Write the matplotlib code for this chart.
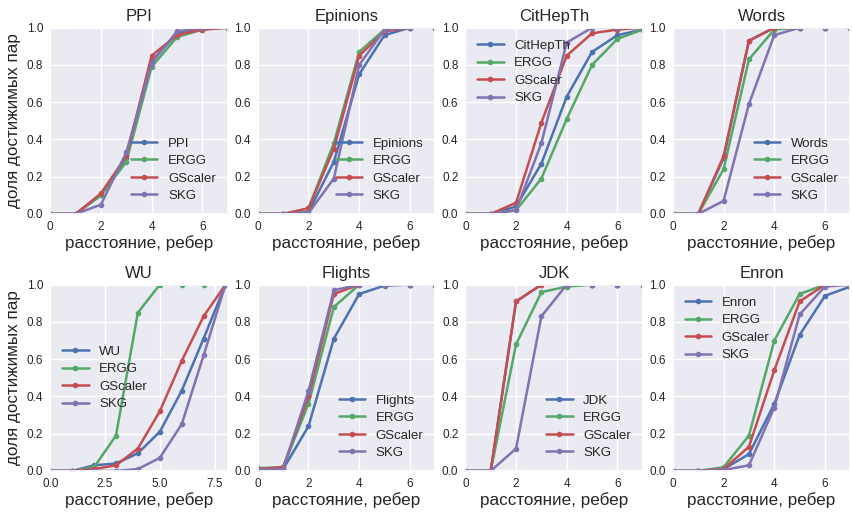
import matplotlib
matplotlib.use("Agg")
import matplotlib.pyplot as plt
import seaborn as sns

sns.set_theme(style="darkgrid")
plt.rcParams['font.family'] = ['Liberation Sans', 'DejaVu Sans']

colors = ["#4C72B0", "#55A868", "#C44E52", "#8172B2"]

titles = ["PPI", "Epinions", "CitHepTh", "Words", "WU", "Flights", "JDK", "Enron"]

ppi = {
    "PPI": [0, 0, 0.10, 0.30, 0.82, 0.97, 1.0, 1.0],
    "ERGG": [0, 0, 0.10, 0.28, 0.79, 0.95, 0.99, 1.0],
    "GScaler": [0, 0, 0.11, 0.31, 0.85, 0.96, 0.99, 1.0],
    "SKG": [0, 0, 0.05, 0.33, 0.81, 0.98, 1.0, 1.0],
}
epinions = {
    "Epinions": [0, 0, 0.01, 0.28, 0.75, 0.96, 1.0, 1.0],
    "ERGG": [0, 0, 0.03, 0.38, 0.87, 0.99, 1.0, 1.0],
    "GScaler": [0, 0, 0.03, 0.35, 0.85, 0.98, 1.0, 1.0],
    "SKG": [0, 0, 0.005, 0.19, 0.80, 0.99, 1.0, 1.0],
}
cithepth = {
    "CitHepTh": [0, 0, 0.04, 0.27, 0.63, 0.87, 0.96, 0.99],
    "ERGG": [0, 0, 0.02, 0.19, 0.51, 0.80, 0.94, 0.99],
    "GScaler": [0, 0, 0.06, 0.49, 0.85, 0.97, 0.99, 1.0],
    "SKG": [0, 0, 0.02, 0.38, 0.92, 1.0, 1.0, 1.0],
}
words = {
    "Words": [0, 0, 0.30, 0.93, 1.0, 1.0, 1.0, 1.0],
    "ERGG": [0, 0, 0.24, 0.83, 0.99, 1.0, 1.0, 1.0],
    "GScaler": [0, 0, 0.31, 0.93, 1.0, 1.0, 1.0, 1.0],
    "SKG": [0, 0, 0.07, 0.59, 0.96, 1.0, 1.0, 1.0],
}
wu = {
    "WU": [0, 0, 0.03, 0.04, 0.095, 0.21, 0.43, 0.71, 1.0],
    "ERGG": [0, 0, 0.02, 0.19, 0.85, 1.0, 1.0, 1.0],
    "GScaler": [0, 0, 0.01, 0.03, 0.12, 0.32, 0.59, 0.83, 1.0],
    "SKG": [0, 0, 0.0, 0.0, 0.01, 0.07, 0.25, 0.62, 1.0],
}
flights = {
    "Flights": [0.01, 0.01, 0.24, 0.71, 0.95, 0.995, 1.0, 1.0],
    "ERGG": [0.015, 0.02, 0.36, 0.88, 1.0, 1.0, 1.0, 1.0],
    "GScaler": [0.01, 0.02, 0.40, 0.95, 1.0, 1.0, 1.0, 1.0],
    "SKG": [0.005, 0.01, 0.43, 0.97, 1.0, 1.0, 1.0, 1.0],
}
jdk = {
    "JDK": [0, 0, 0.91, 1.0, 1.0, 1.0, 1.0, 1.0],
    "ERGG": [0, 0, 0.68, 0.96, 0.99, 1.0, 1.0, 1.0],
    "GScaler": [0, 0, 0.91, 1.0, 1.0, 1.0, 1.0, 1.0],
    "SKG": [0, 0, 0.12, 0.83, 1.0, 1.0, 1.0, 1.0],
}
enron = {
    "Enron": [0, 0, 0.01, 0.09, 0.36, 0.73, 0.94, 0.99],
    "ERGG": [0, 0, 0.02, 0.19, 0.70, 0.95, 1.0, 1.0],
    "GScaler": [0, 0, 0.01, 0.13, 0.54, 0.91, 1.0, 1.0],
    "SKG": [0, 0, 0.005, 0.03, 0.34, 0.84, 0.99, 1.0],
}

datasets = [ppi, epinions, cithepth, words, wu, flights, jdk, enron]
legend_locs = ["lower right", "lower right", "upper left", "lower right",
               "center left", "lower right", "lower right", "upper left"]
xlims = [(0, 7)] * 4 + [(0, 8.1)] + [(0, 7)] * 3

fig, axes = plt.subplots(2, 4, figsize=(8.52, 5.13), dpi=100)
fig.subplots_adjust(left=0.059, right=0.998, top=0.946, bottom=0.082,
                    wspace=0.17, hspace=0.38)

for i, ax in enumerate(axes.flat):
    data = datasets[i]
    for j, (name, vals) in enumerate(data.items()):
        xs = list(range(len(vals)))
        ax.plot(xs, vals, color=colors[j], marker='o', markersize=3,
                linewidth=1.8, label=name)
    ax.set_xlim(*xlims[i])
    ax.set_ylim(0, 1.0)
    ax.set_yticks([0, 0.2, 0.4, 0.6, 0.8, 1.0])
    if i == 4:
        ax.set_xticks([0, 2.5, 5.0, 7.5])
    else:
        ax.set_xticks([0, 2, 4, 6])
    ax.tick_params(labelsize=8.5, colors='.15', length=0, pad=5)
    ax.set_title(titles[i], fontsize=12, color='.15', pad=5)
    ax.set_xlabel("расстояние, ребер", fontsize=12.3, color='.15', labelpad=1.5)
    if i % 4 == 0:
        ax.set_ylabel("доля достижимых пар", fontsize=12.3, color='.15', labelpad=4)
    ax.legend(loc=legend_locs[i], fontsize=9.5, frameon=False, handlelength=2.0,
              labelspacing=0.4)

fig.savefig("out.png", dpi=100)
